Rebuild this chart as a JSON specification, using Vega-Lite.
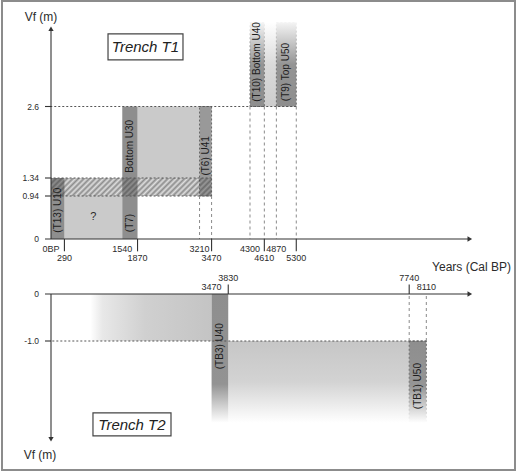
{
  "$schema": "https://vega.github.io/schema/vega-lite/v6.json",
  "width": 520,
  "height": 474,
  "autosize": {"type": "fit", "contains": "padding"},
  "padding": {"left": 2, "top": 1, "right": 5, "bottom": 4},
  "config": {
    "view": {"stroke": "#8c8c8c", "strokeWidth": 2},
    "axis": {"disable": true},
    "text": {"font": "Liberation Sans", "fontSize": 9, "fill": "#2b2b2b"},
    "rule": {"color": "#333333", "strokeWidth": 1.1}
  },
  "datasets": {
    "one": [{}],
    "t1_units": [
      {"unit": "(T13) U10", "from": 0, "to": 290, "low": 0, "high": 1.34, "kind": "dark"},
      {"unit": "?", "from": 290, "to": 1540, "low": 0, "high": 0.94, "kind": "light"},
      {"unit": "(T7) Bottom U30", "from": 1540, "to": 1870, "low": 0, "high": 2.6, "kind": "dark"},
      {"unit": "U30-U41", "from": 1870, "to": 3210, "low": 1.34, "high": 2.6, "kind": "light"},
      {"unit": "(T6) U41", "from": 3210, "to": 3470, "low": 0.94, "high": 2.6, "kind": "dashed"},
      {"unit": "(T10) Bottom U40", "from": 4300, "to": 4610, "low": 2.6, "high": 4.6, "kind": "open dashed"},
      {"unit": "U40-U50", "from": 4610, "to": 4870, "low": 2.6, "high": 4.6, "kind": "open light"},
      {"unit": "(T9) Top U50", "from": 4870, "to": 5300, "low": 2.6, "high": 4.6, "kind": "open dashed"}
    ],
    "t1_band": [{"from": 0, "to": 3470, "low": 0.94, "high": 1.34}],
    "t1_labels": [
      {"text": "(T13) U10", "year": 145, "vf": 0.63},
      {"text": "(T7)", "year": 1705, "vf": 0.35},
      {"text": "Bottom U30", "year": 1705, "vf": 1.9},
      {"text": "(T6) U41", "year": 3340, "vf": 1.73},
      {"text": "(T10) Bottom U40", "year": 4455, "vf": 3.66},
      {"text": "(T9) Top U50", "year": 5085, "vf": 3.42}
    ],
    "t1_years": [
      {"year": 0, "label": "0BP", "ticked": false},
      {"year": 290, "label": "290", "ticked": true},
      {"year": 1540, "label": "1540", "ticked": false},
      {"year": 1870, "label": "1870", "ticked": true},
      {"year": 3210, "label": "3210", "ticked": false},
      {"year": 3470, "label": "3470", "ticked": true},
      {"year": 4300, "label": "4300", "ticked": false},
      {"year": 4610, "label": "4610", "ticked": true},
      {"year": 4870, "label": "4870", "ticked": false},
      {"year": 5300, "label": "5300", "ticked": true}
    ],
    "t1_levels": [
      {"vf": 0, "label": "0", "to": 0},
      {"vf": 0.94, "label": "0.94", "to": 3470},
      {"vf": 1.34, "label": "1.34", "to": 3470},
      {"vf": 2.6, "label": "2.6", "to": 5300}
    ],
    "t1_dates": [
      {"year": 3210, "vf": 0.94},
      {"year": 3470, "vf": 0.94},
      {"year": 4300, "vf": 2.6},
      {"year": 4610, "vf": 2.6},
      {"year": 4870, "vf": 2.6},
      {"year": 5300, "vf": 2.6}
    ],
    "t2_units": [
      {"unit": "U30", "from": 850, "to": 3470, "top": 0, "base": -1, "kind": "fade left"},
      {"unit": "(TB3) U40", "from": 3470, "to": 3830, "top": 0, "base": -2.74, "kind": "dark"},
      {"unit": "U40-U50", "from": 3830, "to": 7740, "top": -1, "base": -2.74, "kind": "light"},
      {"unit": "(TB1) U50", "from": 7740, "to": 8110, "top": -1, "base": -2.74, "kind": "dashed"}
    ],
    "t2_labels": [
      {"text": "(TB3) U40", "year": 3650, "vf": -1.11},
      {"text": "(TB1) U50", "year": 7925, "vf": -1.96}
    ],
    "t2_years": [
      {"year": 3470, "label": "3470", "ticked": false},
      {"year": 3830, "label": "3830", "ticked": true},
      {"year": 7740, "label": "7740", "ticked": true},
      {"year": 8110, "label": "8110", "ticked": false}
    ],
    "t2_levels": [
      {"vf": 0, "label": "0", "to": 0},
      {"vf": -1, "label": "-1.0", "to": 8110}
    ],
    "t2_dates": [
      {"year": 7740, "vf": -1},
      {"year": 8110, "vf": -1}
    ]
  },
  "resolve": {"scale": {"y": "independent"}},
  "layer": [
    {
      "layer": [
        {
          "data": {"name": "t1_units"},
          "transform": [{"filter": "datum.kind === 'light'"}],
          "mark": {"type": "rect", "fill": "#cacaca"},
          "encoding": {
            "x": {"field": "from", "type": "quantitative", "scale": {"domain": [0, 9000], "range": [49, 465.5], "nice": false, "zero": false}},
            "x2": {"field": "to"},
            "y": {"field": "low", "type": "quantitative", "scale": {"domain": [0, 0.94, 1.34, 2.6, 4.6], "range": [238, 195, 177, 105.5, 21.5], "nice": false, "zero": false}},
            "y2": {"field": "high"}
          }
        },
        {
          "data": {"name": "t1_band"},
          "mark": {"type": "rect", "fill": "#dedede"},
          "encoding": {
            "x": {"field": "from", "type": "quantitative"},
            "x2": {"field": "to"},
            "y": {"field": "low", "type": "quantitative"},
            "y2": {"field": "high"}
          }
        },
        {
          "data": {"name": "t1_units"},
          "transform": [{"filter": "datum.kind === 'dark'"}],
          "mark": {"type": "rect", "fill": "#8e8e8e"},
          "encoding": {
            "x": {"field": "from", "type": "quantitative"},
            "x2": {"field": "to"},
            "y": {"field": "low", "type": "quantitative"},
            "y2": {"field": "high"}
          }
        },
        {
          "data": {"name": "t1_units"},
          "transform": [{"filter": "datum.kind === 'dashed'"}],
          "mark": {"type": "rect", "fill": "#999999", "stroke": "#666666", "strokeWidth": 1, "strokeDash": [2, 2]},
          "encoding": {
            "x": {"field": "from", "type": "quantitative"},
            "x2": {"field": "to"},
            "y": {"field": "low", "type": "quantitative"},
            "y2": {"field": "high"}
          }
        },
        {
          "data": {"name": "t1_units"},
          "transform": [{"filter": "datum.kind === 'open light'"}],
          "mark": {
            "type": "rect",
            "fill": {"gradient": "linear", "x1": 0, "y1": 1, "x2": 0, "y2": 0, "stops": [
              {"offset": 0, "color": "#cdcdcd"}, {"offset": 0.5, "color": "#dadada"}, {"offset": 1, "color": "#ffffff"}
            ]}
          },
          "encoding": {
            "x": {"field": "from", "type": "quantitative"},
            "x2": {"field": "to"},
            "y": {"field": "low", "type": "quantitative"},
            "y2": {"field": "high"}
          }
        },
        {
          "data": {"name": "t1_units"},
          "transform": [{"filter": "datum.kind === 'open dashed'"}],
          "mark": {
            "type": "rect",
            "strokeWidth": 1,
            "strokeDash": [2, 2],
            "fill": {"gradient": "linear", "x1": 0, "y1": 1, "x2": 0, "y2": 0, "stops": [
              {"offset": 0, "color": "#8e8e8e"}, {"offset": 0.5, "color": "#949494"}, {"offset": 1, "color": "#f4f4f4"}
            ]},
            "stroke": {"gradient": "linear", "x1": 0, "y1": 1, "x2": 0, "y2": 0, "stops": [
              {"offset": 0, "color": "#666666"}, {"offset": 0.6, "color": "#777777"}, {"offset": 1, "color": "#f4f4f4"}
            ]}
          },
          "encoding": {
            "x": {"field": "from", "type": "quantitative"},
            "x2": {"field": "to"},
            "y": {"field": "low", "type": "quantitative"},
            "y2": {"field": "high"}
          }
        },
        {
          "data": {"name": "t1_band"},
          "mark": {
            "type": "rect",
            "fill": {"gradient": "linear", "x1": 0, "y1": 0, "x2": 1.1, "y2": 0.1233, "stops": [
              {"offset": 0, "color": "rgba(60,60,60,0.5)"}, {"offset": 0.0156, "color": "rgba(60,60,60,0)"},
              {"offset": 0.0313, "color": "rgba(60,60,60,0.5)"}, {"offset": 0.0469, "color": "rgba(60,60,60,0)"},
              {"offset": 0.0625, "color": "rgba(60,60,60,0.5)"}, {"offset": 0.0781, "color": "rgba(60,60,60,0)"},
              {"offset": 0.0938, "color": "rgba(60,60,60,0.5)"}, {"offset": 0.1094, "color": "rgba(60,60,60,0)"},
              {"offset": 0.125, "color": "rgba(60,60,60,0.5)"}, {"offset": 0.1406, "color": "rgba(60,60,60,0)"},
              {"offset": 0.1563, "color": "rgba(60,60,60,0.5)"}, {"offset": 0.1719, "color": "rgba(60,60,60,0)"},
              {"offset": 0.1875, "color": "rgba(60,60,60,0.5)"}, {"offset": 0.2031, "color": "rgba(60,60,60,0)"},
              {"offset": 0.2188, "color": "rgba(60,60,60,0.5)"}, {"offset": 0.2344, "color": "rgba(60,60,60,0)"},
              {"offset": 0.25, "color": "rgba(60,60,60,0.5)"}, {"offset": 0.2656, "color": "rgba(60,60,60,0)"},
              {"offset": 0.2813, "color": "rgba(60,60,60,0.5)"}, {"offset": 0.2969, "color": "rgba(60,60,60,0)"},
              {"offset": 0.3125, "color": "rgba(60,60,60,0.5)"}, {"offset": 0.3281, "color": "rgba(60,60,60,0)"},
              {"offset": 0.3438, "color": "rgba(60,60,60,0.5)"}, {"offset": 0.3594, "color": "rgba(60,60,60,0)"},
              {"offset": 0.375, "color": "rgba(60,60,60,0.5)"}, {"offset": 0.3906, "color": "rgba(60,60,60,0)"},
              {"offset": 0.4063, "color": "rgba(60,60,60,0.5)"}, {"offset": 0.4219, "color": "rgba(60,60,60,0)"},
              {"offset": 0.4375, "color": "rgba(60,60,60,0.5)"}, {"offset": 0.4531, "color": "rgba(60,60,60,0)"},
              {"offset": 0.4688, "color": "rgba(60,60,60,0.5)"}, {"offset": 0.4844, "color": "rgba(60,60,60,0)"},
              {"offset": 0.5, "color": "rgba(60,60,60,0.5)"}, {"offset": 0.5156, "color": "rgba(60,60,60,0)"},
              {"offset": 0.5313, "color": "rgba(60,60,60,0.5)"}, {"offset": 0.5469, "color": "rgba(60,60,60,0)"},
              {"offset": 0.5625, "color": "rgba(60,60,60,0.5)"}, {"offset": 0.5781, "color": "rgba(60,60,60,0)"},
              {"offset": 0.5938, "color": "rgba(60,60,60,0.5)"}, {"offset": 0.6094, "color": "rgba(60,60,60,0)"},
              {"offset": 0.625, "color": "rgba(60,60,60,0.5)"}, {"offset": 0.6406, "color": "rgba(60,60,60,0)"},
              {"offset": 0.6563, "color": "rgba(60,60,60,0.5)"}, {"offset": 0.6719, "color": "rgba(60,60,60,0)"},
              {"offset": 0.6875, "color": "rgba(60,60,60,0.5)"}, {"offset": 0.7031, "color": "rgba(60,60,60,0)"},
              {"offset": 0.7188, "color": "rgba(60,60,60,0.5)"}, {"offset": 0.7344, "color": "rgba(60,60,60,0)"},
              {"offset": 0.75, "color": "rgba(60,60,60,0.5)"}, {"offset": 0.7656, "color": "rgba(60,60,60,0)"},
              {"offset": 0.7813, "color": "rgba(60,60,60,0.5)"}, {"offset": 0.7969, "color": "rgba(60,60,60,0)"},
              {"offset": 0.8125, "color": "rgba(60,60,60,0.5)"}, {"offset": 0.8281, "color": "rgba(60,60,60,0)"},
              {"offset": 0.8438, "color": "rgba(60,60,60,0.5)"}, {"offset": 0.8594, "color": "rgba(60,60,60,0)"},
              {"offset": 0.875, "color": "rgba(60,60,60,0.5)"}, {"offset": 0.8906, "color": "rgba(60,60,60,0)"},
              {"offset": 0.9063, "color": "rgba(60,60,60,0.5)"}, {"offset": 0.9219, "color": "rgba(60,60,60,0)"},
              {"offset": 0.9375, "color": "rgba(60,60,60,0.5)"}, {"offset": 0.9531, "color": "rgba(60,60,60,0)"},
              {"offset": 0.9688, "color": "rgba(60,60,60,0.5)"}, {"offset": 0.9844, "color": "rgba(60,60,60,0)"},
              {"offset": 1, "color": "rgba(60,60,60,0.5)"}
            ]}
          },
          "encoding": {
            "x": {"field": "from", "type": "quantitative"},
            "x2": {"field": "to"},
            "y": {"field": "low", "type": "quantitative"},
            "y2": {"field": "high"}
          }
        },
        {
          "data": {"name": "t1_levels"},
          "transform": [{"filter": "datum.vf > 0"}],
          "mark": {"type": "rule", "color": "#555555", "strokeWidth": 1, "strokeDash": [2, 2]},
          "encoding": {
            "x": {"field": "to", "type": "quantitative"},
            "x2": {"datum": 0},
            "y": {"field": "vf", "type": "quantitative"}
          }
        },
        {
          "data": {"name": "t1_dates"},
          "mark": {"type": "rule", "color": "#8a8a8a", "strokeWidth": 1, "strokeDash": [3, 3]},
          "encoding": {
            "x": {"field": "year", "type": "quantitative"},
            "y": {"field": "vf", "type": "quantitative"},
            "y2": {"datum": 0}
          }
        },
        {
          "data": {"name": "t1_levels"},
          "transform": [{"filter": "datum.vf > 0"}],
          "mark": {"type": "rule"},
          "encoding": {
            "x": {"datum": -130},
            "x2": {"datum": 0},
            "y": {"field": "vf", "type": "quantitative"}
          }
        },
        {
          "data": {"name": "t1_levels"},
          "mark": {"type": "text", "align": "right", "dx": -12, "fontSize": 8.5},
          "encoding": {
            "x": {"datum": 0},
            "y": {"field": "vf", "type": "quantitative"},
            "text": {"field": "label"}
          }
        },
        {
          "data": {"name": "one"},
          "mark": {"type": "rule"},
          "encoding": {"x": {"datum": -130}, "x2": {"datum": 9050}, "y": {"datum": 0}}
        },
        {
          "data": {"name": "one"},
          "mark": {"type": "rule"},
          "encoding": {"x": {"datum": 0}, "y": {"datum": 0}, "y2": {"datum": 4.45}}
        },
        {
          "data": {"name": "one"},
          "mark": {"type": "point", "shape": "triangle-right", "filled": true, "size": 28, "color": "#333333", "opacity": 1},
          "encoding": {"x": {"datum": 9050}, "y": {"datum": 0}}
        },
        {
          "data": {"name": "one"},
          "mark": {"type": "point", "shape": "triangle-up", "filled": true, "size": 28, "color": "#333333", "opacity": 1},
          "encoding": {"x": {"datum": 0}, "y": {"datum": 4.45}}
        },
        {
          "data": {"name": "t1_years"},
          "transform": [{"filter": "datum.ticked"}],
          "mark": {"type": "rule"},
          "encoding": {
            "x": {"field": "year", "type": "quantitative"},
            "y": {"datum": 0},
            "y2": {"datum": -0.27}
          }
        },
        {
          "data": {"name": "t1_years"},
          "transform": [{"filter": "!datum.ticked"}],
          "mark": {"type": "text", "dy": 10},
          "encoding": {
            "x": {"field": "year", "type": "quantitative"},
            "y": {"datum": 0},
            "text": {"field": "label"}
          }
        },
        {
          "data": {"name": "t1_years"},
          "transform": [{"filter": "datum.ticked"}],
          "mark": {"type": "text", "dy": 19},
          "encoding": {
            "x": {"field": "year", "type": "quantitative"},
            "y": {"datum": 0},
            "text": {"field": "label"}
          }
        },
        {
          "data": {"name": "t1_labels"},
          "mark": {"type": "text", "angle": 270, "fontSize": 10, "fill": "#1e1e1e"},
          "encoding": {
            "x": {"field": "year", "type": "quantitative"},
            "y": {"field": "vf", "type": "quantitative"},
            "text": {"field": "text"}
          }
        },
        {
          "data": {"name": "one"},
          "mark": {"type": "text", "text": "?", "fontSize": 11},
          "encoding": {"x": {"datum": 915}, "y": {"datum": 0.48}}
        },
        {
          "data": {"name": "one"},
          "mark": {"type": "rect", "fill": "#ffffff", "stroke": "#444444", "strokeWidth": 1.2},
          "encoding": {"x": {"datum": 1232}, "x2": {"datum": 2852}, "y": {"datum": 4.33}, "y2": {"datum": 3.71}}
        },
        {
          "data": {"name": "one"},
          "mark": {"type": "text", "text": "Trench T1", "fontSize": 15, "fontStyle": "italic", "fill": "#222222"},
          "encoding": {"x": {"datum": 2042}, "y": {"datum": 4.02}}
        },
        {
          "data": {"name": "one"},
          "mark": {"type": "text", "text": "Vf (m)", "fontSize": 12, "dx": -10, "dy": -12},
          "encoding": {"x": {"datum": 0}, "y": {"datum": 4.45}}
        },
        {
          "data": {"name": "one"},
          "mark": {"type": "text", "text": "Years (Cal BP)", "fontSize": 12, "align": "right", "dy": 28},
          "encoding": {"x": {"datum": 9940}, "y": {"datum": 0}}
        }
      ]
    },
    {
      "layer": [
        {
          "data": {"name": "t2_units"},
          "transform": [{"filter": "datum.kind === 'fade left'"}],
          "mark": {
            "type": "rect",
            "fill": {"gradient": "linear", "x1": 0, "y1": 0, "x2": 1, "y2": 0, "stops": [
              {"offset": 0, "color": "#ffffff"}, {"offset": 0.1, "color": "#e8e8e8"}, {"offset": 0.45, "color": "#d0d0d0"}, {"offset": 1, "color": "#c4c4c4"}
            ]}
          },
          "encoding": {
            "x": {"field": "from", "type": "quantitative"},
            "x2": {"field": "to"},
            "y": {"field": "top", "type": "quantitative", "scale": {"domain": [0, -1], "range": [293, 340], "nice": false, "zero": false}},
            "y2": {"field": "base"}
          }
        },
        {
          "data": {"name": "t2_units"},
          "transform": [{"filter": "datum.kind === 'light'"}],
          "mark": {
            "type": "rect",
            "fill": {"gradient": "linear", "x1": 0, "y1": 0, "x2": 0, "y2": 1, "stops": [
              {"offset": 0, "color": "#c6c6c6"}, {"offset": 0.5, "color": "#d3d3d3"}, {"offset": 1, "color": "#ffffff"}
            ]}
          },
          "encoding": {
            "x": {"field": "from", "type": "quantitative"},
            "x2": {"field": "to"},
            "y": {"field": "top", "type": "quantitative"},
            "y2": {"field": "base"}
          }
        },
        {
          "data": {"name": "t2_units"},
          "transform": [{"filter": "datum.kind === 'dark'"}],
          "mark": {
            "type": "rect",
            "fill": {"gradient": "linear", "x1": 0, "y1": 0, "x2": 0, "y2": 1, "stops": [
              {"offset": 0, "color": "#8e8e8e"}, {"offset": 0.7, "color": "#939393"}, {"offset": 1, "color": "#ffffff"}
            ]}
          },
          "encoding": {
            "x": {"field": "from", "type": "quantitative"},
            "x2": {"field": "to"},
            "y": {"field": "top", "type": "quantitative"},
            "y2": {"field": "base"}
          }
        },
        {
          "data": {"name": "t2_units"},
          "transform": [{"filter": "datum.kind === 'dashed'"}],
          "mark": {
            "type": "rect",
            "strokeWidth": 1,
            "strokeDash": [2, 2],
            "fill": {"gradient": "linear", "x1": 0, "y1": 0, "x2": 0, "y2": 1, "stops": [
              {"offset": 0, "color": "#8e8e8e"}, {"offset": 0.55, "color": "#959595"}, {"offset": 1, "color": "#ffffff"}
            ]},
            "stroke": {"gradient": "linear", "x1": 0, "y1": 0, "x2": 0, "y2": 1, "stops": [
              {"offset": 0, "color": "#666666"}, {"offset": 0.6, "color": "#777777"}, {"offset": 1, "color": "#ffffff"}
            ]}
          },
          "encoding": {
            "x": {"field": "from", "type": "quantitative"},
            "x2": {"field": "to"},
            "y": {"field": "top", "type": "quantitative"},
            "y2": {"field": "base"}
          }
        },
        {
          "data": {"name": "t2_levels"},
          "transform": [{"filter": "datum.vf < 0"}],
          "mark": {"type": "rule", "color": "#555555", "strokeWidth": 1, "strokeDash": [2, 2]},
          "encoding": {
            "x": {"field": "to", "type": "quantitative"},
            "x2": {"datum": 0},
            "y": {"field": "vf", "type": "quantitative"}
          }
        },
        {
          "data": {"name": "t2_dates"},
          "mark": {"type": "rule", "color": "#8a8a8a", "strokeWidth": 1, "strokeDash": [3, 3]},
          "encoding": {
            "x": {"field": "year", "type": "quantitative"},
            "y": {"field": "vf", "type": "quantitative"},
            "y2": {"datum": 0}
          }
        },
        {
          "data": {"name": "t2_levels"},
          "transform": [{"filter": "datum.vf < 0"}],
          "mark": {"type": "rule"},
          "encoding": {
            "x": {"datum": -130},
            "x2": {"datum": 0},
            "y": {"field": "vf", "type": "quantitative"}
          }
        },
        {
          "data": {"name": "t2_levels"},
          "mark": {"type": "text", "align": "right", "dx": -12, "fontSize": 8.5},
          "encoding": {
            "x": {"datum": 0},
            "y": {"field": "vf", "type": "quantitative"},
            "text": {"field": "label"}
          }
        },
        {
          "data": {"name": "one"},
          "mark": {"type": "rule"},
          "encoding": {"x": {"datum": -130}, "x2": {"datum": 9050}, "y": {"datum": 0}}
        },
        {
          "data": {"name": "one"},
          "mark": {"type": "rule"},
          "encoding": {"x": {"datum": 0}, "y": {"datum": 0}, "y2": {"datum": -3.09}}
        },
        {
          "data": {"name": "one"},
          "mark": {"type": "point", "shape": "triangle-right", "filled": true, "size": 28, "color": "#333333", "opacity": 1},
          "encoding": {"x": {"datum": 9050}, "y": {"datum": 0}}
        },
        {
          "data": {"name": "one"},
          "mark": {"type": "point", "shape": "triangle-down", "filled": true, "size": 28, "color": "#333333", "opacity": 1},
          "encoding": {"x": {"datum": 0}, "y": {"datum": -3.09}}
        },
        {
          "data": {"name": "t2_years"},
          "transform": [{"filter": "datum.ticked"}],
          "mark": {"type": "rule"},
          "encoding": {
            "x": {"field": "year", "type": "quantitative"},
            "y": {"datum": 0},
            "y2": {"datum": 0.2}
          }
        },
        {
          "data": {"name": "t2_years"},
          "transform": [{"filter": "!datum.ticked"}],
          "mark": {"type": "text", "dy": -7},
          "encoding": {
            "x": {"field": "year", "type": "quantitative"},
            "y": {"datum": 0},
            "text": {"field": "label"}
          }
        },
        {
          "data": {"name": "t2_years"},
          "transform": [{"filter": "datum.ticked"}],
          "mark": {"type": "text", "dy": -16},
          "encoding": {
            "x": {"field": "year", "type": "quantitative"},
            "y": {"datum": 0},
            "text": {"field": "label"}
          }
        },
        {
          "data": {"name": "t2_labels"},
          "mark": {"type": "text", "angle": 270, "fontSize": 10, "fill": "#1e1e1e"},
          "encoding": {
            "x": {"field": "year", "type": "quantitative"},
            "y": {"field": "vf", "type": "quantitative"},
            "text": {"field": "text"}
          }
        },
        {
          "data": {"name": "one"},
          "mark": {"type": "rect", "fill": "#ffffff", "stroke": "#444444", "strokeWidth": 1.2},
          "encoding": {"x": {"datum": 907}, "x2": {"datum": 2593}, "y": {"datum": -2.53}, "y2": {"datum": -3.02}}
        },
        {
          "data": {"name": "one"},
          "mark": {"type": "text", "text": "Trench T2", "fontSize": 15, "fontStyle": "italic", "fill": "#222222"},
          "encoding": {"x": {"datum": 1750}, "y": {"datum": -2.78}}
        },
        {
          "data": {"name": "one"},
          "mark": {"type": "text", "text": "Vf (m)", "fontSize": 12, "dx": -11, "dy": 16},
          "encoding": {"x": {"datum": 0}, "y": {"datum": -3.09}}
        }
      ]
    }
  ]
}
